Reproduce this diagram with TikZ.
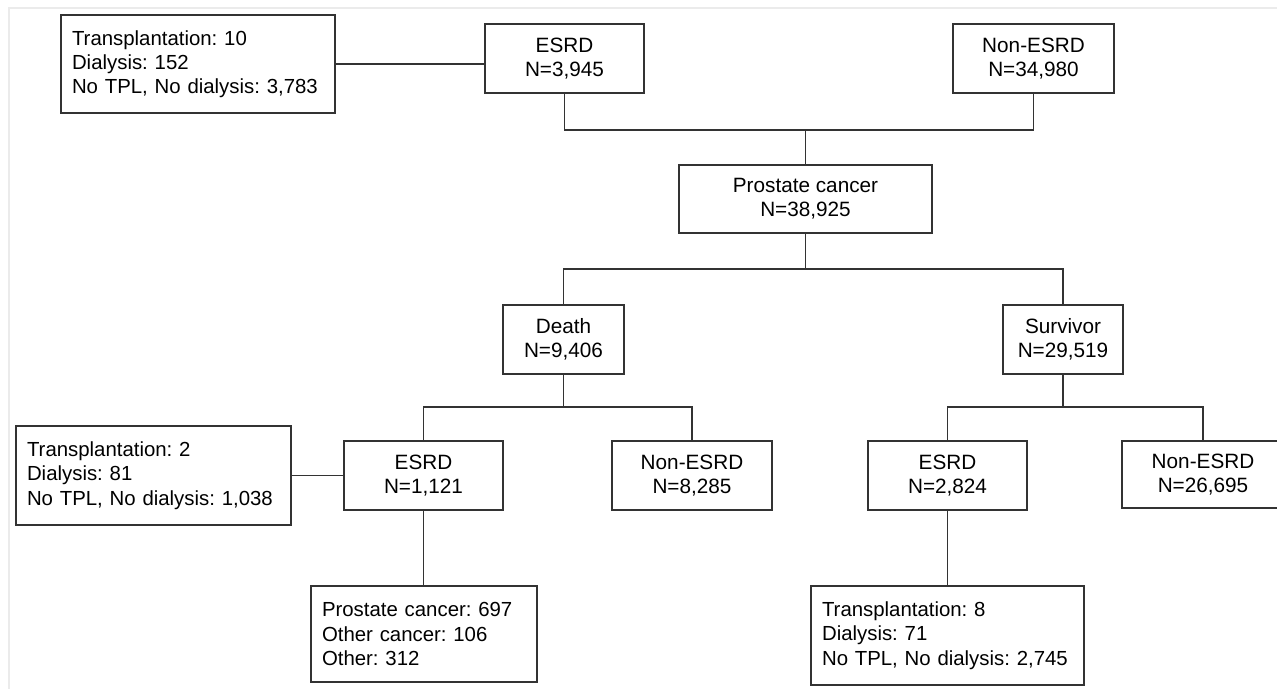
\documentclass[tikz,border=0pt]{standalone}
\usepackage{fontspec}
\setmainfont{Liberation Sans}
\frenchspacing

\begin{document}
\begin{tikzpicture}[x = 0.02cm, y = -0.02cm,
        line/.style = {draw = black!80, line width = 0.7pt},
        box/.style = {line, fill = white, align = center, inner sep = 0pt, minimum width = #1, minimum height = 1.38cm, font = \fontsize{11.8}{13.8}\selectfont},
        infobox/.style = {line, fill = white, align = left, inner xsep = 0.22cm, inner ysep = 0pt, text width = #1, minimum height = 1.96cm, font = \fontsize{11.6}{13.8}\selectfont}]
            \clip (0, 0) rectangle (1277, 689);
            \fill[white] (0, 0) rectangle (1277, 689);
            \draw[black!8, line width = 0.6pt](1277, 8) -- (9, 8) -- (9, 689);
            
            % first row
            \node[box = 3.18cm] (esrd) at (564.5, 58.5) {ESRD \\ N=3,945};
            \node[box = 3.22cm] (nonesrd) at (1033.5, 58.5) {Non-ESRD \\ N=34,980};
            \node[infobox = 5.04cm] (esrdinfo) at (198, 64) {Transplantation: 10 \\ Dialysis: 152 \\ No TPL, No dialysis: 3,783};
            \node[box = 5.06cm, minimum height = 1.36cm] (prostate) at (805.5, 199) {Prostate cancer \\ N=38,925};
            
            % second row
            \node[box = 2.42cm] (death) at (563.5, 339.5) {Death \\ N=9,406};
            \node[box = 2.40cm] (survivor) at (1063, 339.5) {Survivor \\ N=29,519};
            
            % third row
            \node[box = 3.18cm] (desrd) at (423.5, 475.5) {ESRD \\ N=1,121};
            \node[box = 3.20cm] (dnonesrd) at (692, 475.5) {Non-ESRD \\ N=8,285};
            \node[infobox = 5.06cm, minimum height = 1.98cm] (desrdinfo) at (153.5, 475.5) {Transplantation: 2 \\ Dialysis: 81 \\ No TPL, No dialysis: 1,038};
            \node[box = 3.18cm] (sesrd) at (947.5, 475.5) {ESRD \\ N=2,824};
            \node[box = 3.24cm, minimum height = 1.34cm] (snonesrd) at (1203, 474.5) {Non-ESRD \\ N=26,695};
            
            % fourth row
            \node[infobox = 4.08cm, minimum height = 1.92cm] (dcause) at (424, 634) {Prostate cancer: 697 \\ Other cancer: 106 \\ Other: 312};
            \node[infobox = 5.02cm, minimum height = 1.98cm] (sesrdinfo) at (947.5, 635.5) {Transplantation: 8 \\ Dialysis: 71 \\ No TPL, No dialysis: 2,745};
            
            % connectors
            \coordinate (split1) at (805.5, 130);
            \coordinate (split2) at (805.5, 269);
            \coordinate (split3) at (563.5, 407);
            \coordinate (split4) at (1063, 407);
            
            \draw[line](esrdinfo.east) -- (esrdinfo.east -| esrd.west);
            \draw[line](esrd.south) |- (split1) -| (nonesrd.south);
            \draw[line](split1) -- (prostate.north);
            \draw[line](prostate.south) -- (split2);
            \draw[line](death.north) |- (split2) -| (survivor.north);
            \draw[line](death.south) -- (split3);
            \draw[line](desrd.north) |- (split3) -| (dnonesrd.north);
            \draw[line](survivor.south) -- (split4);
            \draw[line](sesrd.north) |- (split4) -| (snonesrd.north);
            \draw[line](desrdinfo.east) -- (desrd.west);
            \draw[line](desrd.south) -- (dcause.north -| desrd.south);
            \draw[line](sesrd.south) -- (sesrdinfo.north);
\end{tikzpicture}
\end{document}
